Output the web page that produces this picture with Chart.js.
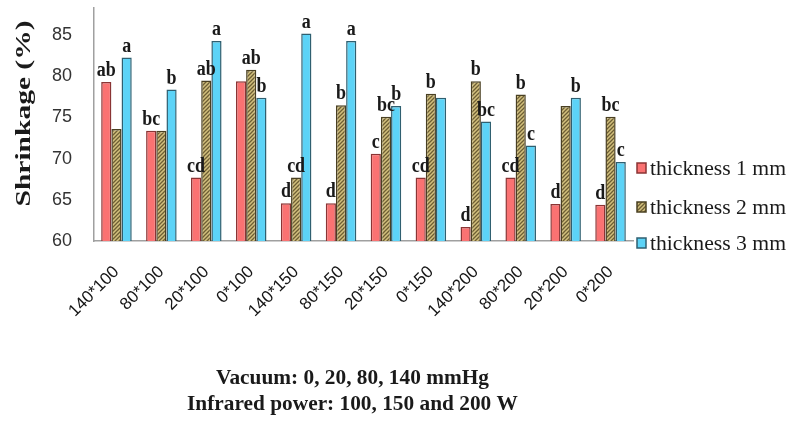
<!DOCTYPE html>
<html><head><meta charset="utf-8">
<script src="https://cdn.jsdelivr.net/npm/chart.js@4/dist/chart.umd.min.js"></script>
<style>html,body{margin:0;padding:0;background:#fff}#wrap{width:792px;height:425px}</style>
</head><body><div id="wrap"><canvas id="c" width="792" height="425"></canvas></div>
<script>
const categories = ['140*100','80*100','20*100','0*100','140*150','80*150','20*150','0*150','140*200','80*200','20*200','0*200'];
const seriesNames = ['thickness 1 mm','thickness 2 mm','thickness 3 mm'];
const thickness1 = [79.3,73.4,67.7,79.4,64.6,64.6,70.6,67.7,61.7,67.7,64.5,64.4];
const thickness2 = [73.6,73.4,79.5,80.8,67.7,76.5,75.1,77.9,79.4,77.8,76.4,75.1];
const thickness3 = [82.3,78.4,84.3,77.4,85.2,84.3,76.4,77.4,74.5,71.6,77.4,69.6];
const letters1 = ['ab','bc','cd','','d','d','c','cd','d','cd','d','d'];
const letters2 = ['','','ab','ab','cd','b','bc','b','b','b','','bc'];
const letters3 = ['a','b','a','b','a','a','b','','bc','c','b','c'];
const yTicks = [60,65,70,75,80,85];
const yTitle = 'Shrinkage (%)';
const xTitleLines = ['Vacuum: 0, 20, 80, 140 mmHg','Infrared power: 100, 150 and 200 W'];

function hatch(){
  const c=document.createElement('canvas');c.width=4;c.height=4;
  const x=c.getContext('2d');
  x.fillStyle='#D2C07E';x.fillRect(0,0,4,4);
  x.strokeStyle='#6E5E34';x.lineWidth=1.3;x.beginPath();
  x.moveTo(0,4);x.lineTo(4,0);x.moveTo(-2,2);x.lineTo(2,-2);x.moveTo(2,6);x.lineTo(6,2);x.stroke();
  return x.createPattern(c,'repeat');
}
const olive = hatch();
const fills = ['#FA7272', olive, '#5CD3F7'];
const borders = ['#8A3434','#4A4022','#2F5F70'];
const letterSets = [letters1, letters2, letters3];

function drawFit(ctx, text, x, y, sx){
  ctx.save(); ctx.translate(x,y); ctx.scale(sx,1); ctx.fillText(text,0,0); ctx.restore();
}

const extras = {
  id:'extras',
  afterDatasetsDraw(chart){
    const ctx=chart.ctx;
    const ca=chart.chartArea;
    ctx.save();
    ctx.fillStyle='#1A1A1A';
    ctx.font='bold 20px "Liberation Serif"';
    ctx.textAlign='center';ctx.textBaseline='bottom';
    chart.data.datasets.forEach((ds,di)=>{
      const meta=chart.getDatasetMeta(di);
      meta.data.forEach((bar,i)=>{
        const t=letterSets[di][i];
        if(t) drawFit(ctx, t, bar.x, bar.y-1, 0.9);
      });
    });
    const ys=[ca.bottom-73, ca.bottom-34, ca.bottom+2];
    ctx.textAlign='left';ctx.textBaseline='middle';
    ctx.font='21px "Liberation Serif"';
    seriesNames.forEach((n,i)=>{
      const mx=ca.right+4, my=ys[i];
      ctx.fillStyle=fills[i];ctx.fillRect(mx,my-5,9,10);
      ctx.strokeStyle=borders[i];ctx.lineWidth=1.5;ctx.strokeRect(mx,my-5,9,10);
      ctx.fillStyle='#1A1A1A';
      const w=ctx.measureText(n).width;
      drawFit(ctx, n, mx+13, my+1, 136/w);
    });
    ctx.font='bold 22px "Liberation Serif"';
    ctx.textAlign='center';ctx.textBaseline='middle';
    {
      const w=ctx.measureText(yTitle).width;
      ctx.save(); ctx.translate(24,(ca.top+ca.bottom)/2-11); ctx.rotate(-Math.PI/2);
      ctx.scale(186/w,1); ctx.fillText(yTitle,0,0); ctx.restore();
    }
    ctx.font='bold 22px "Liberation Serif"';
    const cx=(ca.left+ca.right)/2-11;
    const s=273/ctx.measureText(xTitleLines[0]).width;
    drawFit(ctx, xTitleLines[0], cx, ca.bottom+137, s);
    drawFit(ctx, xTitleLines[1], cx, ca.bottom+163, s);
    ctx.restore();
  }
};

new Chart(document.getElementById('c'),{
  type:'bar',
  data:{
    labels:categories,
    datasets:[thickness1,thickness2,thickness3].map((d,i)=>({
      label:seriesNames[i], data:d, backgroundColor:fills[i], borderColor:borders[i],
      borderWidth:1.5, borderSkipped:'bottom', categoryPercentage:0.68, barPercentage:1.0
    }))
  },
  options:{
    responsive:false, animation:false, devicePixelRatio:1,
    layout:{padding:{left:6,right:159,top:8,bottom:0}},
    plugins:{legend:{display:false},tooltip:{enabled:false}},
    scales:{
      x:{
        grid:{display:false},
        border:{color:'#A0A0A0',width:1.5},
        ticks:{font:{family:'"Liberation Sans"',size:17},color:'#151515',minRotation:45,maxRotation:45,padding:13},
        afterFit(s){s.height=184;s.paddingLeft=0;s.paddingRight=0;}
      },
      y:{
        min:60,max:88.3,
        afterBuildTicks(s){s.ticks=yTicks.map(v=>({value:v}));},
        grid:{display:false},
        border:{color:'#A0A0A0',width:1.5},
        ticks:{font:{family:'"Liberation Sans"',size:18},color:'#333',padding:14},
        title:{display:false},
        afterFit(s){s.width=88;s.paddingTop=0;s.paddingBottom=0;}
      }
    }
  },
  plugins:[extras]
});
</script></body></html>
